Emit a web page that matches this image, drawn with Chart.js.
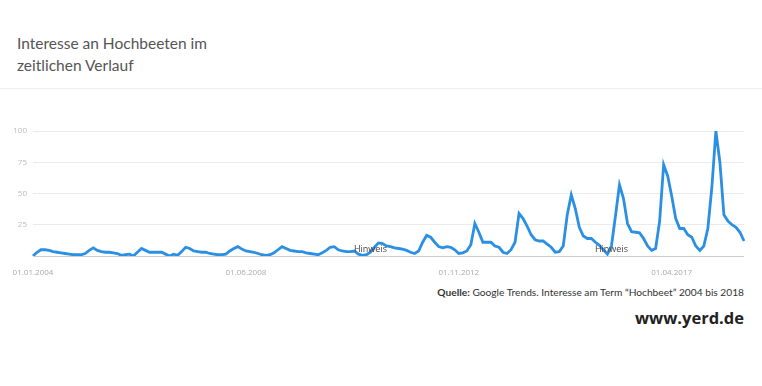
<!DOCTYPE html>
<html lang="de">
<head>
    <meta charset="UTF-8">
    <title>Interesse an Hochbeeten im zeitlichen Verlauf</title>
    <style>
        body {
            margin: 0;
            width: 762px;
            height: 386px;
            background: #ffffff;
            font-family: Lato, 'Open Sans', sans-serif;
            position: relative;
            overflow: hidden;
        }
        .title {
            position: absolute;
            left: 17px;
            top: 32px;
            font-size: 15.5px;
            line-height: 22px;
            color: #555555;
        }
        .rule {
            position: absolute;
            left: 0;
            top: 88px;
            width: 762px;
            border-top: 1px solid #eeeeee;
        }
        #chart-box {
            position: absolute;
            left: 0;
            top: 120px;
            width: 762px;
            height: 156px;
        }
        .source {
            position: absolute;
            right: 18px;
            top: 286px;
            font-size: 10.2px;
            color: #333333;
        }
        .site {
            position: absolute;
            right: 18px;
            top: 306px;
            font-family: 'Open Sans', sans-serif;
            font-size: 16.5px;
            font-weight: bold;
            color: #222222;
        }
    </style>
</head>
<body>
    <div class="title">Interesse an Hochbeeten im<br>zeitlichen Verlauf</div>
    <div class="rule"></div>
    <div id="chart-box"><canvas id="trend"></canvas></div>
    <div class="source"><b>Quelle:</b> Google Trends. Interesse am Term “Hochbeet” 2004 bis 2018</div>
    <div class="site">www.yerd.de</div>

    <script src="https://cdn.jsdelivr.net/npm/chart.js@4/dist/chart.umd.min.js"></script>
    <script>
        // monthly Google Trends values, Jan 2004 .. Oct 2018
        const y2004 = [0, 3, 5, 5, 4.5, 3.5, 3, 2.5, 2, 1.5, 1, 1];
        const y2005 = [1, 2, 4.5, 6.5, 4.5, 3.5, 3, 3, 2.5, 2, 0.5, 1];
        const y2006 = [1.5, 0, 3, 6, 4.5, 3, 3, 3, 3, 1.5, 0, 1.5];
        const y2007 = [0.5, 3.5, 7, 6, 4, 3.5, 3, 3, 2, 1.5, 1, 1];
        const y2008 = [1.5, 4, 6, 7.5, 5.5, 4, 3.5, 3, 2, 1, 0.5, 1];
        const y2009 = [2.5, 5, 7.5, 6, 4.5, 4, 3.5, 3.5, 2.5, 2, 1.5, 1];
        const y2010 = [2.5, 4.5, 7, 7.5, 5, 4, 3.5, 3.5, 4, 1.5, 0.5, 1];
        const y2011 = [3, 7, 10.5, 10, 8, 7.5, 6.5, 6, 5.5, 4.5, 3, 2];
        const y2012 = [4, 11, 16.5, 15, 11, 7.5, 6.5, 7.5, 7, 5, 2, 2.5];
        const y2013 = [4, 9, 26, 19, 11, 11, 11, 8, 7, 3, 2, 5];
        const y2014 = [11, 34, 30, 24, 17, 13, 12, 12, 9.5, 7, 3, 3.5];
        const y2015 = [8, 33, 49, 38, 23, 16, 14, 14, 11, 8.5, 5, 1.5];
        const y2016 = [8, 32, 57, 46, 26, 19.5, 19, 18.5, 14, 8, 4.5, 6];
        const y2017 = [28, 73, 64, 48, 30, 22, 22, 17, 15, 8, 4.5, 8];
        const y2018 = [22, 55, 100, 75, 33, 28, 25, 23, 19, 12];

        const interest = [].concat(y2004, y2005, y2006, y2007, y2008, y2009, y2010,
            y2011, y2012, y2013, y2014, y2015, y2016, y2017, y2018);

        const tickLabels = ['01.01.2004', '01.06.2008', '01.11.2012', '01.04.2017'];
        const noteDates = ['01.01.2011', '01.01.2016'];
        const noteText = 'Hinweis';

        // one category per month
        const months = interest.map((_, i) => {
            const mm = String(i % 12 + 1).padStart(2, '0');
            return '01.' + mm + '.' + (2004 + Math.floor(i / 12));
        });

        const notesPlugin = {
            id: 'notes',
            afterDatasetsDraw(chart) {
                const ctx = chart.ctx;
                const xs = chart.scales.x, ys = chart.scales.y;
                ctx.save();
                ctx.font = '9px "Open Sans", sans-serif';
                ctx.fillStyle = '#444444';
                ctx.textAlign = 'center';
                ctx.textBaseline = 'middle';
                noteDates.forEach(d => {
                    const i = months.indexOf(d);
                    ctx.fillText(noteText, xs.getPixelForValue(i), ys.getPixelForValue(5.5));
                });
                ctx.restore();
            }
        };

        new Chart(document.getElementById('trend'), {
            type: 'line',
            data: {
                labels: months,
                datasets: [{
                    data: interest,
                    borderColor: '#2b8fe3',
                    borderWidth: 2.8,
                    pointRadius: 0,
                    tension: 0,
                    fill: false
                }]
            },
            options: {
                responsive: true,
                maintainAspectRatio: false,
                animation: false,
                layout: { padding: { top: 11, right: 18, left: 0, bottom: 0 } },
                plugins: {
                    legend: { display: false },
                    tooltip: { enabled: false }
                },
                scales: {
                    x: {
                        grid: { display: false },
                        border: { display: false },
                        afterFit: s => { s.height = 20; },
                        ticks: {
                            autoSkip: false,
                            maxRotation: 0,
                            padding: 4,
                            color: '#aaaaaa',
                            font: { family: '"Open Sans", sans-serif', size: 8 },
                            callback: function (v) {
                                const lab = this.getLabelForValue(v);
                                return tickLabels.includes(lab) ? lab : '';
                            }
                        }
                    },
                    y: {
                        min: 0,
                        max: 100,
                        border: { display: false },
                        afterFit: s => { s.width = 33; },
                        grid: {
                            drawTicks: false,
                            lineWidth: 1,
                            color: c => c.tick.value === 0 ? '#cccccc' : '#ebebeb'
                        },
                        ticks: {
                            stepSize: 25,
                            padding: 6,
                            color: '#bbbbbb',
                            font: { family: '"Open Sans", sans-serif', size: 8 },
                            callback: v => v === 0 ? '' : v
                        }
                    }
                }
            },
            plugins: [notesPlugin]
        });
    </script>
</body>
</html>
